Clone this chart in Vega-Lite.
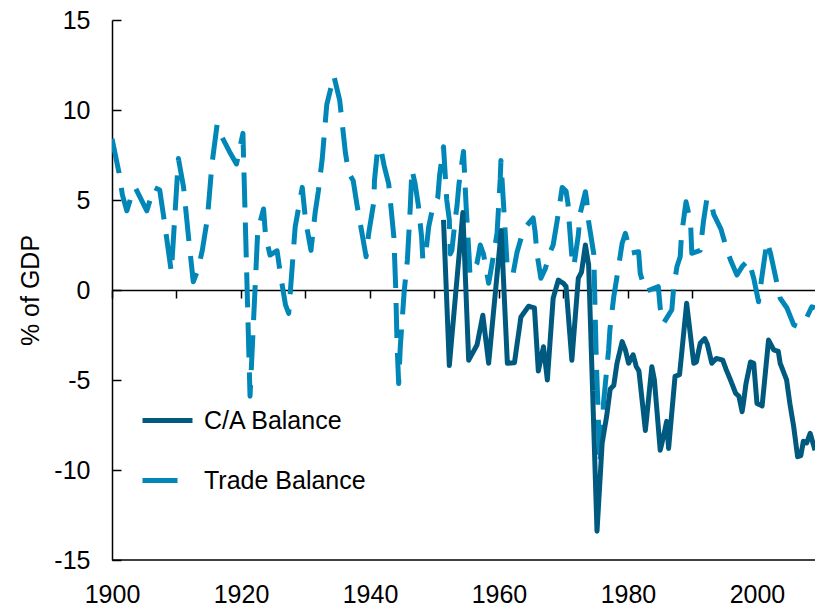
{
  "$schema": "https://vega.github.io/schema/vega-lite/v6.json",
  "width": 703,
  "height": 540,
  "autosize": {"type": "none"},
  "padding": {"left": 112, "top": 20, "right": 0, "bottom": 51},
  "background": "white",
  "config": {
    "view": {"stroke": null},
    "font": "Liberation Sans",
    "axis": {"grid": false, "domainColor": "black", "tickColor": "black", "labelColor": "black", "titleColor": "black", "labelFont": "Liberation Sans", "titleFont": "Liberation Sans"}
  },
  "datasets": {
    "series": [
      {"year": 1900.0, "value": 8.4, "series": "Trade Balance"},
      {"year": 1901.1, "value": 6.5, "series": "Trade Balance"},
      {"year": 1901.6, "value": 5.3, "series": "Trade Balance"},
      {"year": 1902.3, "value": 4.4, "series": "Trade Balance"},
      {"year": 1902.9, "value": 5.1, "series": "Trade Balance"},
      {"year": 1903.6, "value": 5.7, "series": "Trade Balance"},
      {"year": 1905.4, "value": 4.4, "series": "Trade Balance"},
      {"year": 1906.5, "value": 5.7, "series": "Trade Balance"},
      {"year": 1907.4, "value": 5.55, "series": "Trade Balance"},
      {"year": 1908.0, "value": 4.1, "series": "Trade Balance"},
      {"year": 1909.2, "value": 1.0, "series": "Trade Balance"},
      {"year": 1910.3, "value": 7.3, "series": "Trade Balance"},
      {"year": 1911.1, "value": 5.7, "series": "Trade Balance"},
      {"year": 1911.9, "value": 2.8, "series": "Trade Balance"},
      {"year": 1912.6, "value": 0.46, "series": "Trade Balance"},
      {"year": 1913.3, "value": 1.1, "series": "Trade Balance"},
      {"year": 1914.0, "value": 2.2, "series": "Trade Balance"},
      {"year": 1914.8, "value": 4.0, "series": "Trade Balance"},
      {"year": 1915.5, "value": 7.0, "series": "Trade Balance"},
      {"year": 1916.3, "value": 9.2, "series": "Trade Balance"},
      {"year": 1916.9, "value": 8.6, "series": "Trade Balance"},
      {"year": 1918.2, "value": 7.7, "series": "Trade Balance"},
      {"year": 1919.3, "value": 7.0, "series": "Trade Balance"},
      {"year": 1920.3, "value": 8.7, "series": "Trade Balance"},
      {"year": 1921.4, "value": -5.9, "series": "Trade Balance"},
      {"year": 1922.6, "value": 3.3, "series": "Trade Balance"},
      {"year": 1923.5, "value": 4.5, "series": "Trade Balance"},
      {"year": 1923.8, "value": 3.05, "series": "Trade Balance"},
      {"year": 1924.5, "value": 1.94, "series": "Trade Balance"},
      {"year": 1925.6, "value": 2.18, "series": "Trade Balance"},
      {"year": 1926.1, "value": 0.9, "series": "Trade Balance"},
      {"year": 1926.9, "value": -0.83, "series": "Trade Balance"},
      {"year": 1927.4, "value": -1.3, "series": "Trade Balance"},
      {"year": 1928.4, "value": 3.5, "series": "Trade Balance"},
      {"year": 1929.5, "value": 5.7, "series": "Trade Balance"},
      {"year": 1930.0, "value": 3.9, "series": "Trade Balance"},
      {"year": 1930.85, "value": 2.2, "series": "Trade Balance"},
      {"year": 1931.5, "value": 4.3, "series": "Trade Balance"},
      {"year": 1932.0, "value": 5.5, "series": "Trade Balance"},
      {"year": 1932.6, "value": 7.3, "series": "Trade Balance"},
      {"year": 1933.3, "value": 10.3, "series": "Trade Balance"},
      {"year": 1934.4, "value": 11.9, "series": "Trade Balance"},
      {"year": 1935.3, "value": 10.55, "series": "Trade Balance"},
      {"year": 1936.2, "value": 7.6, "series": "Trade Balance"},
      {"year": 1936.7, "value": 6.5, "series": "Trade Balance"},
      {"year": 1937.4, "value": 6.07, "series": "Trade Balance"},
      {"year": 1938.0, "value": 4.7, "series": "Trade Balance"},
      {"year": 1939.4, "value": 1.85, "series": "Trade Balance"},
      {"year": 1939.8, "value": 3.15, "series": "Trade Balance"},
      {"year": 1940.6, "value": 4.9, "series": "Trade Balance"},
      {"year": 1940.7, "value": 6.1, "series": "Trade Balance"},
      {"year": 1941.2, "value": 7.9, "series": "Trade Balance"},
      {"year": 1941.7, "value": 7.8, "series": "Trade Balance"},
      {"year": 1942.2, "value": 6.9, "series": "Trade Balance"},
      {"year": 1942.9, "value": 5.9, "series": "Trade Balance"},
      {"year": 1943.7, "value": 2.96, "series": "Trade Balance"},
      {"year": 1944.0, "value": 0.0, "series": "Trade Balance"},
      {"year": 1944.2, "value": -3.05, "series": "Trade Balance"},
      {"year": 1944.45, "value": -5.2, "series": "Trade Balance"},
      {"year": 1944.7, "value": -3.15, "series": "Trade Balance"},
      {"year": 1945.3, "value": -0.1, "series": "Trade Balance"},
      {"year": 1945.8, "value": 1.67, "series": "Trade Balance"},
      {"year": 1946.25, "value": 4.6, "series": "Trade Balance"},
      {"year": 1946.5, "value": 6.7, "series": "Trade Balance"},
      {"year": 1947.0, "value": 5.9, "series": "Trade Balance"},
      {"year": 1947.5, "value": 4.7, "series": "Trade Balance"},
      {"year": 1948.0, "value": 2.96, "series": "Trade Balance"},
      {"year": 1948.2, "value": 1.67, "series": "Trade Balance"},
      {"year": 1948.7, "value": 2.2, "series": "Trade Balance"},
      {"year": 1949.1, "value": 3.5, "series": "Trade Balance"},
      {"year": 1949.6, "value": 4.35, "series": "Trade Balance"},
      {"year": 1950.5, "value": 5.1, "series": "Trade Balance"},
      {"year": 1950.8, "value": 6.4, "series": "Trade Balance"},
      {"year": 1951.4, "value": 7.96, "series": "Trade Balance"},
      {"year": 1951.9, "value": 5.0, "series": "Trade Balance"},
      {"year": 1952.3, "value": 3.9, "series": "Trade Balance"},
      {"year": 1952.45, "value": 2.0, "series": "Trade Balance"},
      {"year": 1952.7, "value": 2.2, "series": "Trade Balance"},
      {"year": 1953.2, "value": 3.9, "series": "Trade Balance"},
      {"year": 1953.5, "value": 4.7, "series": "Trade Balance"},
      {"year": 1953.8, "value": 5.9, "series": "Trade Balance"},
      {"year": 1954.5, "value": 7.7, "series": "Trade Balance"},
      {"year": 1954.9, "value": 4.7, "series": "Trade Balance"},
      {"year": 1955.4, "value": 1.67, "series": "Trade Balance"},
      {"year": 1955.5, "value": 0.83, "series": "Trade Balance"},
      {"year": 1956.6, "value": 1.5, "series": "Trade Balance"},
      {"year": 1957.1, "value": 2.5, "series": "Trade Balance"},
      {"year": 1957.6, "value": 2.0, "series": "Trade Balance"},
      {"year": 1958.4, "value": 0.37, "series": "Trade Balance"},
      {"year": 1958.9, "value": 1.4, "series": "Trade Balance"},
      {"year": 1959.7, "value": 3.15, "series": "Trade Balance"},
      {"year": 1960.2, "value": 6.2, "series": "Trade Balance"},
      {"year": 1960.3, "value": 7.2, "series": "Trade Balance"},
      {"year": 1960.6, "value": 5.4, "series": "Trade Balance"},
      {"year": 1961.1, "value": 2.4, "series": "Trade Balance"},
      {"year": 1961.3, "value": 1.1, "series": "Trade Balance"},
      {"year": 1962.2, "value": 0.93, "series": "Trade Balance"},
      {"year": 1962.8, "value": 2.1, "series": "Trade Balance"},
      {"year": 1963.8, "value": 3.33, "series": "Trade Balance"},
      {"year": 1964.6, "value": 3.7, "series": "Trade Balance"},
      {"year": 1965.3, "value": 4.0, "series": "Trade Balance"},
      {"year": 1965.6, "value": 3.24, "series": "Trade Balance"},
      {"year": 1965.9, "value": 2.0, "series": "Trade Balance"},
      {"year": 1966.5, "value": 0.65, "series": "Trade Balance"},
      {"year": 1967.2, "value": 1.2, "series": "Trade Balance"},
      {"year": 1967.8, "value": 2.0, "series": "Trade Balance"},
      {"year": 1968.4, "value": 2.5, "series": "Trade Balance"},
      {"year": 1969.0, "value": 3.8, "series": "Trade Balance"},
      {"year": 1969.8, "value": 5.7, "series": "Trade Balance"},
      {"year": 1970.4, "value": 5.5, "series": "Trade Balance"},
      {"year": 1970.7, "value": 4.8, "series": "Trade Balance"},
      {"year": 1970.9, "value": 3.7, "series": "Trade Balance"},
      {"year": 1971.3, "value": 1.85, "series": "Trade Balance"},
      {"year": 1971.6, "value": 1.3, "series": "Trade Balance"},
      {"year": 1972.3, "value": 3.05, "series": "Trade Balance"},
      {"year": 1972.6, "value": 4.26, "series": "Trade Balance"},
      {"year": 1973.4, "value": 5.46, "series": "Trade Balance"},
      {"year": 1973.6, "value": 5.0, "series": "Trade Balance"},
      {"year": 1973.9, "value": 3.8, "series": "Trade Balance"},
      {"year": 1974.7, "value": 2.0, "series": "Trade Balance"},
      {"year": 1974.9, "value": -1.1, "series": "Trade Balance"},
      {"year": 1975.1, "value": -4.07, "series": "Trade Balance"},
      {"year": 1975.4, "value": -7.0, "series": "Trade Balance"},
      {"year": 1975.6, "value": -9.7, "series": "Trade Balance"},
      {"year": 1976.0, "value": -8.15, "series": "Trade Balance"},
      {"year": 1976.2, "value": -6.3, "series": "Trade Balance"},
      {"year": 1976.5, "value": -5.2, "series": "Trade Balance"},
      {"year": 1977.0, "value": -3.33, "series": "Trade Balance"},
      {"year": 1977.2, "value": -2.2, "series": "Trade Balance"},
      {"year": 1977.8, "value": -0.37, "series": "Trade Balance"},
      {"year": 1978.3, "value": 0.74, "series": "Trade Balance"},
      {"year": 1979.1, "value": 2.6, "series": "Trade Balance"},
      {"year": 1979.6, "value": 3.15, "series": "Trade Balance"},
      {"year": 1980.4, "value": 2.04, "series": "Trade Balance"},
      {"year": 1981.65, "value": 2.13, "series": "Trade Balance"},
      {"year": 1981.9, "value": 0.93, "series": "Trade Balance"},
      {"year": 1982.7, "value": -0.09, "series": "Trade Balance"},
      {"year": 1984.7, "value": 0.19, "series": "Trade Balance"},
      {"year": 1985.0, "value": -1.0, "series": "Trade Balance"},
      {"year": 1985.5, "value": -1.85, "series": "Trade Balance"},
      {"year": 1986.8, "value": -1.1, "series": "Trade Balance"},
      {"year": 1987.1, "value": 0.19, "series": "Trade Balance"},
      {"year": 1987.6, "value": 1.3, "series": "Trade Balance"},
      {"year": 1988.1, "value": 1.85, "series": "Trade Balance"},
      {"year": 1988.3, "value": 3.05, "series": "Trade Balance"},
      {"year": 1989.0, "value": 4.9, "series": "Trade Balance"},
      {"year": 1989.7, "value": 3.8, "series": "Trade Balance"},
      {"year": 1989.9, "value": 2.04, "series": "Trade Balance"},
      {"year": 1991.2, "value": 2.2, "series": "Trade Balance"},
      {"year": 1991.7, "value": 3.8, "series": "Trade Balance"},
      {"year": 1992.25, "value": 5.1, "series": "Trade Balance"},
      {"year": 1993.0, "value": 4.7, "series": "Trade Balance"},
      {"year": 1993.3, "value": 4.2, "series": "Trade Balance"},
      {"year": 1994.4, "value": 3.4, "series": "Trade Balance"},
      {"year": 1995.2, "value": 2.4, "series": "Trade Balance"},
      {"year": 1995.9, "value": 1.67, "series": "Trade Balance"},
      {"year": 1996.9, "value": 0.83, "series": "Trade Balance"},
      {"year": 1997.7, "value": 1.3, "series": "Trade Balance"},
      {"year": 1998.7, "value": 1.67, "series": "Trade Balance"},
      {"year": 1999.5, "value": 0.65, "series": "Trade Balance"},
      {"year": 2000.25, "value": -0.65, "series": "Trade Balance"},
      {"year": 2000.8, "value": 0.83, "series": "Trade Balance"},
      {"year": 2001.55, "value": 2.7, "series": "Trade Balance"},
      {"year": 2002.1, "value": 2.04, "series": "Trade Balance"},
      {"year": 2003.1, "value": 0.37, "series": "Trade Balance"},
      {"year": 2003.6, "value": -0.46, "series": "Trade Balance"},
      {"year": 2004.65, "value": -1.0, "series": "Trade Balance"},
      {"year": 2005.7, "value": -1.94, "series": "Trade Balance"},
      {"year": 2006.45, "value": -2.04, "series": "Trade Balance"},
      {"year": 2007.75, "value": -1.5, "series": "Trade Balance"},
      {"year": 2008.5, "value": -0.93, "series": "Trade Balance"},
      {"year": 2009.0, "value": -1.0, "series": "Trade Balance"},
      {"year": 1951.4, "value": 3.9, "series": "C/A Balance"},
      {"year": 1952.3, "value": -4.2, "series": "C/A Balance"},
      {"year": 1954.4, "value": 4.3, "series": "C/A Balance"},
      {"year": 1955.3, "value": -3.9, "series": "C/A Balance"},
      {"year": 1956.6, "value": -3.05, "series": "C/A Balance"},
      {"year": 1957.5, "value": -1.4, "series": "C/A Balance"},
      {"year": 1958.4, "value": -4.07, "series": "C/A Balance"},
      {"year": 1960.35, "value": 3.3, "series": "C/A Balance"},
      {"year": 1961.3, "value": -4.07, "series": "C/A Balance"},
      {"year": 1962.4, "value": -4.04, "series": "C/A Balance"},
      {"year": 1963.4, "value": -1.5, "series": "C/A Balance"},
      {"year": 1964.6, "value": -0.9, "series": "C/A Balance"},
      {"year": 1965.5, "value": -1.0, "series": "C/A Balance"},
      {"year": 1966.1, "value": -4.5, "series": "C/A Balance"},
      {"year": 1966.9, "value": -3.15, "series": "C/A Balance"},
      {"year": 1967.5, "value": -5.0, "series": "C/A Balance"},
      {"year": 1968.4, "value": -0.46, "series": "C/A Balance"},
      {"year": 1969.2, "value": 0.55, "series": "C/A Balance"},
      {"year": 1970.0, "value": 0.37, "series": "C/A Balance"},
      {"year": 1970.4, "value": 0.2, "series": "C/A Balance"},
      {"year": 1971.3, "value": -3.9, "series": "C/A Balance"},
      {"year": 1972.3, "value": 0.65, "series": "C/A Balance"},
      {"year": 1972.8, "value": 1.0, "series": "C/A Balance"},
      {"year": 1973.4, "value": 2.5, "series": "C/A Balance"},
      {"year": 1973.9, "value": 1.4, "series": "C/A Balance"},
      {"year": 1975.2, "value": -13.4, "series": "C/A Balance"},
      {"year": 1976.0, "value": -8.5, "series": "C/A Balance"},
      {"year": 1976.7, "value": -7.0, "series": "C/A Balance"},
      {"year": 1977.25, "value": -5.5, "series": "C/A Balance"},
      {"year": 1977.8, "value": -5.3, "series": "C/A Balance"},
      {"year": 1978.3, "value": -4.07, "series": "C/A Balance"},
      {"year": 1979.1, "value": -2.87, "series": "C/A Balance"},
      {"year": 1979.6, "value": -3.33, "series": "C/A Balance"},
      {"year": 1980.1, "value": -4.07, "series": "C/A Balance"},
      {"year": 1980.8, "value": -3.6, "series": "C/A Balance"},
      {"year": 1981.3, "value": -4.26, "series": "C/A Balance"},
      {"year": 1981.7, "value": -4.5, "series": "C/A Balance"},
      {"year": 1982.7, "value": -7.8, "series": "C/A Balance"},
      {"year": 1983.7, "value": -4.26, "series": "C/A Balance"},
      {"year": 1984.1, "value": -5.0, "series": "C/A Balance"},
      {"year": 1985.0, "value": -8.9, "series": "C/A Balance"},
      {"year": 1985.5, "value": -8.15, "series": "C/A Balance"},
      {"year": 1986.0, "value": -7.3, "series": "C/A Balance"},
      {"year": 1986.3, "value": -8.8, "series": "C/A Balance"},
      {"year": 1987.3, "value": -4.8, "series": "C/A Balance"},
      {"year": 1988.0, "value": -4.7, "series": "C/A Balance"},
      {"year": 1989.1, "value": -0.74, "series": "C/A Balance"},
      {"year": 1990.2, "value": -4.07, "series": "C/A Balance"},
      {"year": 1990.6, "value": -4.0, "series": "C/A Balance"},
      {"year": 1991.2, "value": -2.96, "series": "C/A Balance"},
      {"year": 1991.9, "value": -2.7, "series": "C/A Balance"},
      {"year": 1992.3, "value": -3.0, "series": "C/A Balance"},
      {"year": 1993.0, "value": -4.07, "series": "C/A Balance"},
      {"year": 1993.7, "value": -3.8, "series": "C/A Balance"},
      {"year": 1994.7, "value": -3.9, "series": "C/A Balance"},
      {"year": 1995.2, "value": -4.4, "series": "C/A Balance"},
      {"year": 1995.9, "value": -5.0, "series": "C/A Balance"},
      {"year": 1996.7, "value": -5.74, "series": "C/A Balance"},
      {"year": 1997.2, "value": -5.9, "series": "C/A Balance"},
      {"year": 1997.7, "value": -6.76, "series": "C/A Balance"},
      {"year": 1997.9, "value": -6.3, "series": "C/A Balance"},
      {"year": 1998.3, "value": -5.2, "series": "C/A Balance"},
      {"year": 1999.0, "value": -4.0, "series": "C/A Balance"},
      {"year": 1999.5, "value": -4.07, "series": "C/A Balance"},
      {"year": 2000.0, "value": -6.3, "series": "C/A Balance"},
      {"year": 2000.8, "value": -6.44, "series": "C/A Balance"},
      {"year": 2001.8, "value": -2.78, "series": "C/A Balance"},
      {"year": 2002.6, "value": -3.33, "series": "C/A Balance"},
      {"year": 2003.3, "value": -3.4, "series": "C/A Balance"},
      {"year": 2003.6, "value": -4.07, "series": "C/A Balance"},
      {"year": 2004.6, "value": -5.0, "series": "C/A Balance"},
      {"year": 2005.1, "value": -6.3, "series": "C/A Balance"},
      {"year": 2005.7, "value": -7.6, "series": "C/A Balance"},
      {"year": 2006.3, "value": -9.26, "series": "C/A Balance"},
      {"year": 2006.8, "value": -9.2, "series": "C/A Balance"},
      {"year": 2007.2, "value": -8.4, "series": "C/A Balance"},
      {"year": 2007.7, "value": -8.5, "series": "C/A Balance"},
      {"year": 2008.25, "value": -7.96, "series": "C/A Balance"},
      {"year": 2009.0, "value": -8.9, "series": "C/A Balance"}
    ]
  },
  "layer": [
    {
      "data": {"values": [{"v": -15}]},
      "mark": {"type": "rule", "color": "black", "strokeWidth": 1.5},
      "encoding": {"y": {"field": "v", "type": "quantitative", "scale": {"domain": [-15, 15], "nice": false}}}
    },
    {
      "data": {"name": "series"},
      "mark": {"type": "line", "strokeWidth": 5, "clip": true, "strokeCap": "butt", "strokeJoin": "round"},
      "encoding": {
        "x": {
          "field": "year", "type": "quantitative",
          "scale": {"domain": [1900, 2009], "nice": false, "zero": false},
          "axis": {
            "title": null, "orient": "bottom", "offset": -270,
            "values": [1900, 1910, 1920, 1930, 1940, 1950, 1960, 1970, 1980, 1990, 2000],
            "labelExpr": "datum.value % 20 == 0 ? format(datum.value, 'd') : ''",
            "labelFlush": false, "labelOverlap": false,
            "domainWidth": 1.5, "tickWidth": 1.5, "tickSize": 8,
            "labelFontSize": 25, "labelPadding": 284
          }
        },
        "y": {
          "field": "value", "type": "quantitative",
          "scale": {"domain": [-15, 15], "nice": false},
          "axis": {
            "title": "% of GDP", "titleFontSize": 25, "titleFontWeight": "normal", "titlePadding": 10,
            "values": [-15, -10, -5, 0, 5, 10, 15],
            "labelExpr": "datum.value < 0 ? '-' + abs(datum.value) : '' + datum.value",
            "domainWidth": 1.5, "tickWidth": 1.5, "tickSize": -9,
            "labelFontSize": 25, "labelPadding": 31
          }
        },
        "color": {
          "field": "series", "type": "nominal",
          "scale": {"domain": ["C/A Balance", "Trade Balance"], "range": ["#005a80", "#0087b8"]},
          "legend": {"title": null, "orient": "none", "legendX": 28, "legendY": 373, "symbolType": "stroke", "symbolSize": 2500, "symbolStrokeWidth": 5, "labelFontSize": 25, "labelColor": "black", "labelOffset": 9, "labelLimit": 400, "rowPadding": 19, "padding": 0}
        },
        "strokeDash": {
          "field": "series", "type": "nominal",
          "scale": {"domain": ["C/A Balance", "Trade Balance"], "range": [[1, 0], [35, 15]]},
          "legend": {"title": null, "orient": "none", "legendX": 28, "legendY": 373, "symbolType": "stroke", "symbolSize": 2500, "symbolStrokeWidth": 5, "labelFontSize": 25, "labelColor": "black", "labelOffset": 9, "labelLimit": 400, "rowPadding": 19, "padding": 0}
        }
      }
    }
  ]
}
